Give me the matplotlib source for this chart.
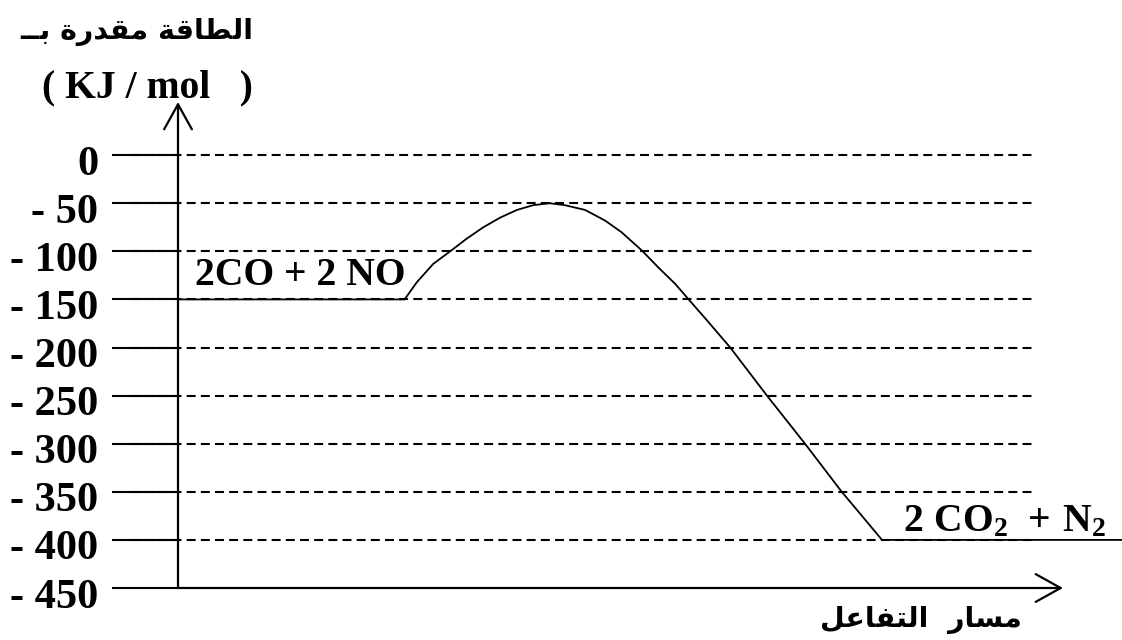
import matplotlib
matplotlib.use('Agg')
import matplotlib.pyplot as plt
from matplotlib import transforms

plt.rcParams['mathtext.fontset'] = 'custom'
plt.rcParams['mathtext.rm'] = 'Liberation Serif:bold'
plt.rcParams['mathtext.bf'] = 'Liberation Serif:bold'

# energy levels on the y axis (kJ/mol)
levels = [0, -50, -100, -150, -200, -250, -300, -350, -400, -450]
level_labels = ['0', '- 50', '- 100', '- 150', '- 200', '- 250', '- 300', '- 350', '- 400', '- 450']

# reaction path (x: reaction progress, 0..100 along the axis)
path_x = [0, 25.6, 27.0, 28.85, 30.9, 32.6, 34.5, 36.4, 38.3, 40.15, 42.0, 43.7, 46.0,
          48.25, 50.1, 52.4, 54.3, 56.2, 57.7, 59.7, 62.4, 66.55, 70.85, 75.0, 77.1, 79.55, 106.7]
path_e = [-150, -150, -132, -113, -99, -87, -75, -65, -57, -52, -50, -52, -57,
          -68, -80, -99, -117, -134, -150, -171, -200, -250, -300, -350, -373, -400, -400]

reactants = '2CO + 2 NO'
products = r'$\mathbf{2\;CO_2\ \,{+}\ N_2}$'
# Arabic in presentation forms, visual order (matplotlib does no shaping)
y_title = '\u0640\u0640\uFE91 \uFE93\uFEAD\uFEAA\uFED8\uFEE3 \uFE94\uFED7\uFE8E\uFEC4\uFEDF\uFE8D'
y_unit = '( KJ / mol   )'
x_title = '\uFEDE\uFECB\uFE8E\uFED4\uFE98\uFEDF\uFE8D  \uFEAD\uFE8E\uFEB4\uFEE3'

serif = dict(family='Liberation Serif', weight='bold', size=28.5)
tick_font = dict(family='Liberation Serif', weight='bold', size=30.5)
arab = dict(family='DejaVu Sans', weight='bold', size=20.5)

fig = plt.figure(figsize=(11.22, 6.40), dpi=100)
ax = fig.add_axes([178 / 1122, 52 / 640, 944 / 1122, 488 / 640])
ax.set_xlim(0, 106.67)
ax.set_ylim(-450, 57.3)
for s in ax.spines.values():
    s.set_visible(False)

ax.set_xticks([])
ax.set_yticks(levels)
ax.set_yticklabels(level_labels, fontdict=tick_font)
ax.tick_params(axis='y', direction='out', length=47.5, width=1.5, pad=10)
off = transforms.ScaledTranslation(0, -5 / 100, fig.dpi_scale_trans)
for lab in ax.get_yticklabels():
    lab.set_transform(lab.get_transform() + off)

# dashed guide lines
ax.hlines(levels[:-1], -5.4, 96.8, colors='black', linestyles=(0, (4.3, 2.5)),
          linewidth=1.5, clip_on=False)

# axes with open arrow heads
arrow = dict(arrowstyle='->,head_length=0.9,head_width=0.5', color='black',
             lw=1.6, shrinkA=0, shrinkB=0, mutation_scale=20)
ax.annotate('', xy=(0, 55.2), xytext=(0, -450), arrowprops=arrow, annotation_clip=False)
ax.annotate('', xy=(100, -450), xytext=(0, -450), arrowprops=arrow, annotation_clip=False)

ax.plot(path_x, path_e, color='black', linewidth=1.3, clip_on=False)

ax.text(1.9, -135.4, reactants, ha='left', va='baseline', **serif)
ax.text(81.9, -390.6, products, ha='left', va='baseline', fontsize=28.5)
ax.text(-15.4, 60.4, y_unit, ha='left', va='baseline', **serif)
ax.text(8.5, 128, y_title, ha='right', va='center', **arab)
ax.text(95.3, -483, x_title, ha='right', va='center', **arab)

fig.savefig('out.png', dpi=100)
